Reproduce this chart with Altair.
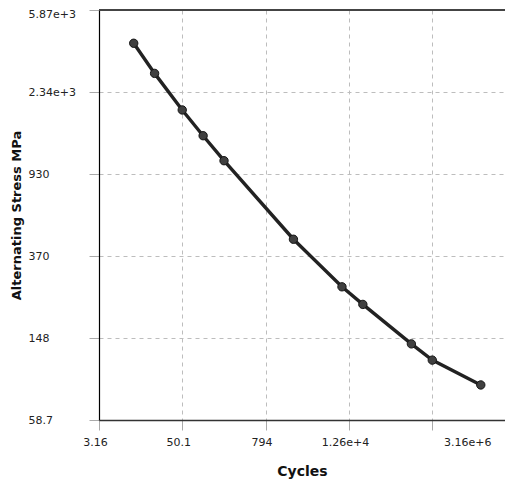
import math
import altair as alt
import pandas as pd

# Data
cycles = [10, 20, 50, 100, 200, 2000, 1e4, 2e4, 1e5, 2e5, 1e6]
stress = [4040, 2880, 1910, 1430, 1080, 447, 262, 215, 138, 115, 87]

# Axis ticks (log10 exponents) and their printed labels
x_tick_exp = [0.5, 1.7, 2.9, 4.1, 5.3]
x_labels = ["3.16", "50.1", "794", "1.26e+4", "3.16e+6"]
y_tick_exp = [1.7686, 2.1686, 2.5686, 2.9686, 3.3686, 3.7686]
y_labels = ["58.7", "148", "370", "930", "2.34e+3", "5.87e+3"]

x_ticks = [10 ** e for e in x_tick_exp]
y_ticks = [10 ** e for e in y_tick_exp]

W, H = 406, 410
x_domain = [10 ** 0.5, 10 ** (0.5 + W / 83.3 * 1.2)]
y_domain = [10 ** 1.7686, 10 ** 3.7686]

LABEL_FONT = "DejaVu Sans"
TITLE_FONT = "DejaVu Sans"


def label_expr(ticks, labels):
    expr = "''"
    for i in reversed(range(len(ticks))):
        if i == len(ticks) - 1:
            expr = f"'{labels[i]}'"
        else:
            mid = math.sqrt(ticks[i] * ticks[i + 1])
            expr = f"(datum.value < {mid} ? '{labels[i]}' : {expr})"
    return expr


df = pd.DataFrame({"cycles": cycles, "stress": stress})

common = dict(
    grid=True,
    gridDash=[4, 4],
    gridColor="#bdbdbd",
    gridWidth=1,
    tickColor="#aaaaaa",
    tickSize=10,
    labelFont=LABEL_FONT,
    labelFontSize=11,
    labelColor="#222222",
    titleFont=TITLE_FONT,
    titleFontWeight="bold",
    titleColor="#111111",
    labelFlush=False,
    labelOverlap=False,
)

x_enc = alt.X(
    "cycles:Q",
    scale=alt.Scale(type="log", domain=x_domain, nice=False),
    axis=alt.Axis(
        values=x_ticks,
        labelExpr=label_expr(x_ticks, x_labels),
        title="Cycles",
        titleFontSize=14,
        titleX=203,
        titleY=55,
        titleBaseline="alphabetic",
        titleAlign="center",
        labelPadding=6,
        labelOffset={"condition": {"test": "datum.value > 1e5", "value": 35}, "value": -4},
        domainColor="#333333",
        domainWidth=1.5,
        **common,
    ),
)
y_enc = alt.Y(
    "stress:Q",
    scale=alt.Scale(type="log", domain=y_domain, nice=False),
    axis=alt.Axis(
        values=y_ticks,
        labelExpr=label_expr(y_ticks, y_labels),
        title="Alternating Stress MPa",
        titleFontSize=13,
        titleX=-83,
        titleY=H / 2,
        titleAngle=270,
        titleBaseline="middle",
        titleAlign="center",
        labelAlign="left",
        labelPadding=61,
        labelBaseline="middle",
        labelOffset={"condition": {"test": "datum.value > 5000", "value": 4}, "value": 0},
        domainColor="#000000",
        domainWidth=1.2,
        **common,
    ),
)

base = alt.Chart(df).encode(x=x_enc, y=y_enc)
line = base.mark_line(color="#222222", strokeWidth=3.4)
pts = base.mark_point(filled=True, size=70, color="#404040", stroke="#151515", strokeWidth=1, opacity=1)
top_border = alt.Chart(df).mark_rule(color="#444444", strokeWidth=1.5).encode(
    x=alt.value(0), x2=alt.value(W), y=alt.value(0)
)

chart = (
    alt.layer(line, pts, top_border)
    .properties(
        width=W,
        height=H,
        autosize=alt.AutoSizeParams(type="none"),
        padding={"left": 91, "top": 2, "right": 0, "bottom": 60},
    )
    .configure_view(strokeWidth=0)
    .configure(background="white")
)

chart.save("out.html", embed_options={"renderer": "svg", "actions": False})
